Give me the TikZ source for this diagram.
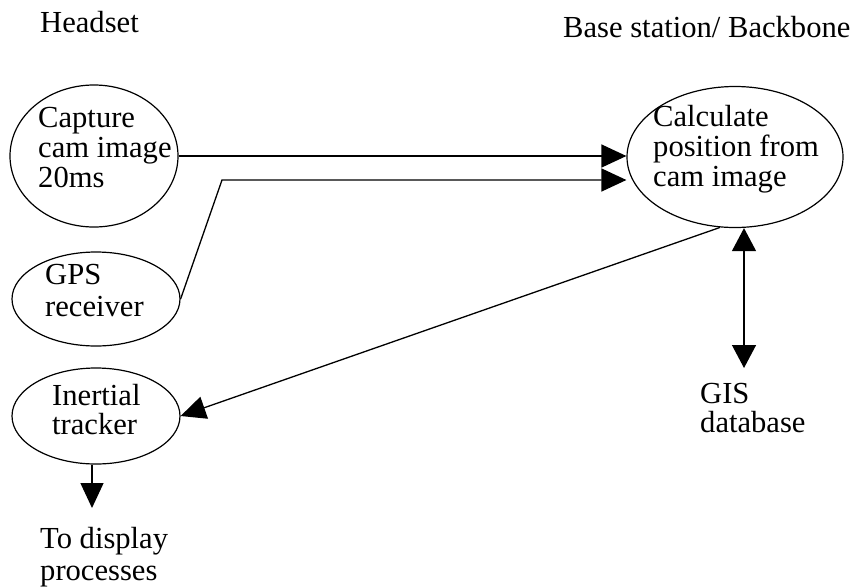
\documentclass[tikz,border=0pt]{standalone}
\usepackage{fontspec}
\setmainfont{Liberation Serif}
\usetikzlibrary{shapes.geometric,arrows.meta}

\begin{document}
\begin{tikzpicture}[x=1pt,y=-1pt,
  proc/.style={draw,ellipse,line width=1.2pt,inner sep=0pt},
  lbl/.style={anchor=base west,inner sep=0pt,align=left,
    font=\fontsize{30.6pt}{30pt}\selectfont},
  flow/.style={line width=1.3pt,-{Triangle[length=25pt,width=23pt]}},
  both/.style={line width=1.3pt,{Triangle[length=23pt,width=24pt]}-{Triangle[length=23pt,width=24pt]}}]
  \useasboundingbox (0,0) rectangle (856,587);

  % processes
  \node[proc,minimum width=168pt,minimum height=142pt] (cap)  at (94,156) {};
  \node[proc,minimum width=168pt,minimum height=94pt]  (gps)  at (96,299) {};
  \node[proc,minimum width=168pt,minimum height=96pt]  (inr)  at (96,416) {};
  \node[proc,minimum width=216pt,minimum height=141pt] (calc) at (735,157) {};

  % headings and labels (anchored at the baseline of the last line)
  \node[lbl] (head) at (40,32) {Headset};
  \node[lbl] (base) at (563,37) {Base station/ Backbone};
  \node[lbl] (capt) at (38,187) {Capture\\cam image\\20ms};
  \node[lbl,font=\fontsize{30.6pt}{32pt}\selectfont] (gpst) at (45,316) {GPS\\receiver};
  \node[lbl,font=\fontsize{30.6pt}{29pt}\selectfont] (inrt) at (52,434) {Inertial\\tracker};
  \node[lbl] (calct) at (653,186) {Calculate\\position from\\cam image};
  \node[lbl,font=\fontsize{30.6pt}{29pt}\selectfont] (gist) at (700,432) {GIS\\database};
  \node[lbl,font=\fontsize{30.6pt}{32pt}\selectfont] (dispt) at (40,580) {To display\\processes};

  % connector end points
  \coordinate (bend) at (222,180);
  \coordinate (gis)  at (744,368);
  \coordinate (disp) at (92,508);

  % connectors
  \draw[flow] (cap.east) -- (cap.east -| calc.west);
  \draw[flow] (gps.east) -- (bend) -- (bend -| calc.west);
  \draw[flow] (calc.258) -- (inr.east);
  \draw[both] (gis |- calc.south) -- (gis);
  \draw[flow] (inr.south -| disp) -- (disp);
\end{tikzpicture}
\end{document}
